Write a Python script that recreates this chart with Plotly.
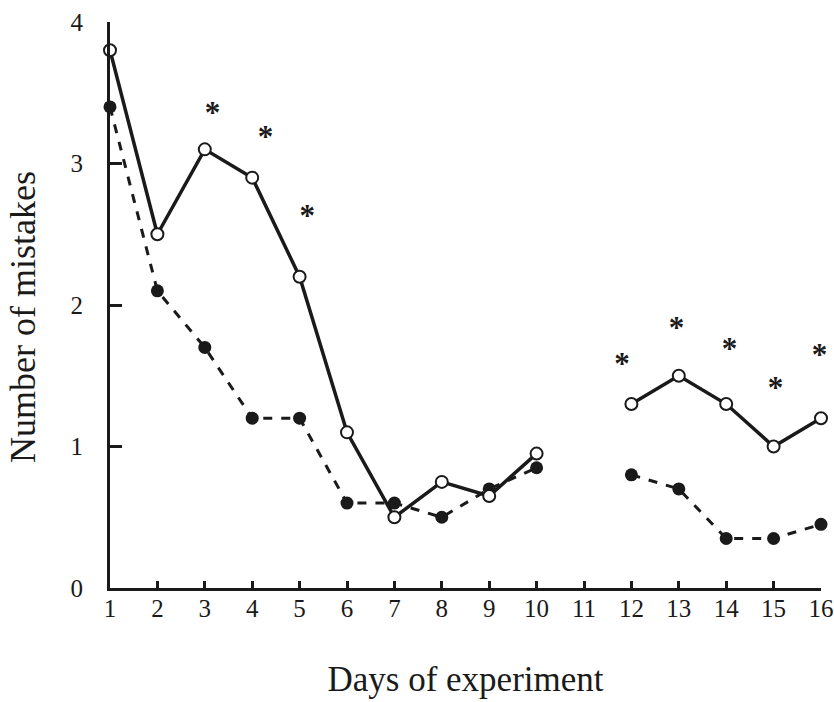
import plotly.graph_objects as go

days_a = [1, 2, 3, 4, 5, 6, 7, 8, 9, 10, 12, 13, 14, 15, 16]
open_vals = [3.8, 2.5, 3.1, 2.9, 2.2, 1.1, 0.5, 0.75, 0.65, 0.95, 1.3, 1.5, 1.3, 1.0, 1.2]
filled_vals = [3.4, 2.1, 1.7, 1.2, 1.2, 0.6, 0.6, 0.5, 0.7, 0.85, 0.8, 0.7, 0.35, 0.35, 0.45]

star_days = [3.16, 4.28, 5.16, 11.8, 12.95, 14.07, 15.04, 15.97]
star_vals = [3.34, 3.17, 2.61, 1.57, 1.82, 1.67, 1.40, 1.63]

x_ticks = list(range(1, 17))
y_ticks = [0, 1, 2, 3, 4]

def split(days, vals):
    xs, ys = [], []
    prev = None
    for d, v in zip(days, vals):
        if prev is not None and d - prev > 1:
            xs.append(None); ys.append(None)
        xs.append(d); ys.append(v)
        prev = d
    return xs, ys

fx, fy = split(days_a, filled_vals)
ox, oy = split(days_a, open_vals)

INK = "#1a1a1a"
FONT = "Liberation Serif"

fig = go.Figure()
fig.add_trace(go.Scatter(x=fx, y=fy, mode="lines+markers",
                         line=dict(color=INK, width=3, dash="9px,9px"),
                         marker=dict(size=13, color=INK, symbol="circle"),
                         cliponaxis=False, showlegend=False))
fig.add_trace(go.Scatter(x=ox, y=oy, mode="lines+markers",
                         line=dict(color=INK, width=3.5),
                         marker=dict(size=12, color="white", symbol="circle",
                                     line=dict(color=INK, width=2)),
                         cliponaxis=False, showlegend=False))
fig.add_trace(go.Scatter(x=star_days, y=star_vals, mode="text",
                         text=["<b>*</b>"] * len(star_days),
                         textposition="middle center",
                         textfont=dict(family=FONT, size=31, color=INK),
                         cliponaxis=False, showlegend=False))

fig.update_layout(
    width=834, height=702,
    margin=dict(l=110, r=13, t=22, b=114),
    paper_bgcolor="white", plot_bgcolor="white",
    font=dict(family=FONT, color=INK, size=25),
    xaxis=dict(range=[1, 16], tickmode="array", tickvals=x_ticks,
               ticktext=[str(t) for t in x_ticks], automargin=False,
               showgrid=False, zeroline=False, showline=True, linecolor=INK,
               linewidth=3, ticks="inside", ticklen=7, tickwidth=2.5, tickcolor=INK,
               tickfont=dict(size=25), ticklabelstandoff=-4,
               title=dict(text="Days of experiment", font=dict(size=35), standoff=46)),
    yaxis=dict(range=[0, 4], tickmode="array", tickvals=y_ticks, automargin=False,
               showgrid=False, zeroline=False, showline=True, linecolor=INK,
               linewidth=3, ticks="inside", ticklen=12, tickwidth=2.5, tickcolor=INK,
               tickfont=dict(size=25), ticklabelstandoff=19),
    annotations=[dict(text="Number of mistakes", textangle=-90, showarrow=False,
                      xref="paper", yref="paper", x=0, y=0.479,
                      xanchor="center", yanchor="middle", xshift=-87,
                      font=dict(family=FONT, size=36, color=INK))],
)

fig.write_html("out.html", config={"displayModeBar": False},
               post_script="document.body.style.margin='0';")
